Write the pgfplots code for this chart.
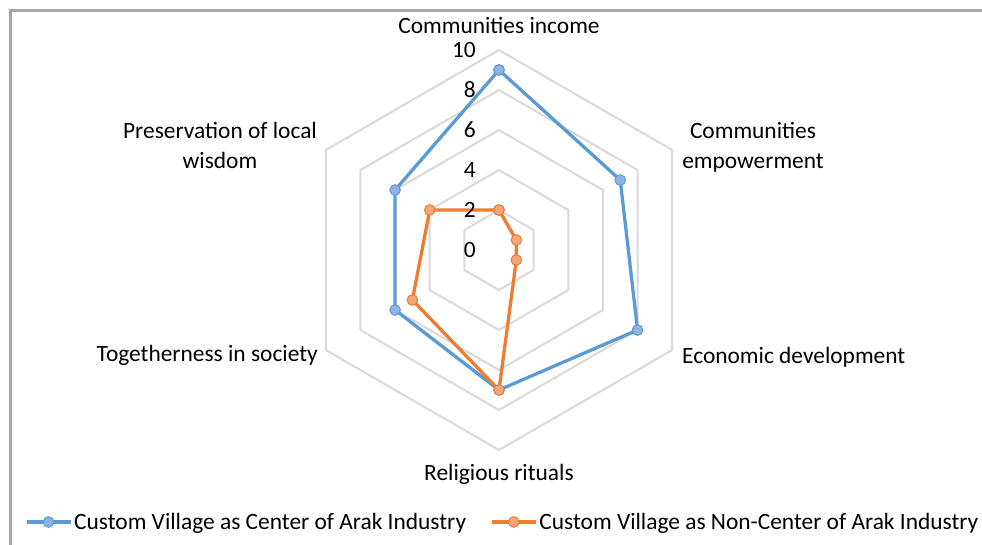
\documentclass[border=0pt]{standalone}
\usepackage{pgfplots}
\pgfplotsset{compat=1.18}
\usepgfplotslibrary{polar}
\usepackage{fontspec}
\setmainfont{Carlito}
\definecolor{xblue}{HTML}{5B9BD5}
\definecolor{xbluefill}{HTML}{8DB4E2}
\definecolor{xorange}{HTML}{ED7D31}
\definecolor{xorangefill}{HTML}{F4A77A}
\definecolor{xgrid}{HTML}{D9D9D9}
\definecolor{xframe}{HTML}{A6A6A6}
\newcommand\f{\fontsize{23.4pt}{30pt}\selectfont}
\begin{document}
\begin{tikzpicture}[x=1pt,y=1pt]
\useasboundingbox (-499,-294) rectangle (483,250);
\draw[xframe, line width=3pt] (-488.5,-300) -- (-488.5,239.5) -- (490,239.5);
\begin{polaraxis}[
  at={(0,0)}, anchor=origin,
  scale only axis, width=400pt, height=400pt,
  xmin=0, xmax=360, ymin=0, ymax=10,
  xtick=\empty, ytick=\empty,
  axis line style={draw=none},
  clip=false,
  legend style={at={(0.509,-0.18)}, anchor=center, draw=none, fill=none,
    legend columns=2, font=\f,
    /tikz/every even column/.append style={column sep=22pt}},
  legend cell align=left,
  legend image code/.code={\draw[#1, mark repeat=2, mark phase=2] plot coordinates {(0pt,0pt) (22pt,0pt) (44pt,0pt)};},
]
% hexagonal grid
\addplot[xgrid, line width=2pt, no marks, forget plot] coordinates {(90,2)(30,2)(330,2)(270,2)(210,2)(150,2)(90,2)};
\addplot[xgrid, line width=2pt, no marks, forget plot] coordinates {(90,4)(30,4)(330,4)(270,4)(210,4)(150,4)(90,4)};
\addplot[xgrid, line width=2pt, no marks, forget plot] coordinates {(90,6)(30,6)(330,6)(270,6)(210,6)(150,6)(90,6)};
\addplot[xgrid, line width=2pt, no marks, forget plot] coordinates {(90,8)(30,8)(330,8)(270,8)(210,8)(150,8)(90,8)};
\addplot[xgrid, line width=2pt, no marks, forget plot] coordinates {(90,10)(30,10)(330,10)(270,10)(210,10)(150,10)(90,10)};
% series
\addplot[xblue, line width=3.3pt, mark=*, mark size=5.3pt, mark options={fill=xbluefill, draw=xblue, line width=1pt}]
  coordinates {(90,9)(30,7)(330,8)(270,7)(210,6)(150,6)(90,9)};
\addlegendentry{Custom Village as Center of Arak Industry}
\addplot[xorange, line width=3.3pt, mark=*, mark size=5.3pt, mark options={fill=xorangefill, draw=xorange, line width=1pt}]
  coordinates {(90,2)(30,1)(330,1)(270,7)(210,5)(150,4)(90,2)};
\addlegendentry{Custom Village as Non-Center of Arak Industry}
\end{polaraxis}
% radial value labels
\foreach \v in {0,2,4,6,8,10} {
  \node[anchor=east, inner sep=0pt, font=\f] at (-23, {20*\v}) {\v};
}
% category labels
\node[font=\f, inner sep=0pt] at (0,225) {Communities income};
\node[font=\f, inner sep=0pt, align=center] at (254,103) {Communities\\empowerment};
\node[font=\f, inner sep=0pt, anchor=west] at (183,-107) {Economic development};
\node[font=\f, inner sep=0pt] at (0,-224) {Religious rituals};
\node[font=\f, inner sep=0pt, anchor=east] at (-181,-105) {Togetherness in society};
\node[font=\f, inner sep=0pt, align=center] at (-279,105) {Preservation of local\\wisdom};
\end{tikzpicture}
\end{document}
